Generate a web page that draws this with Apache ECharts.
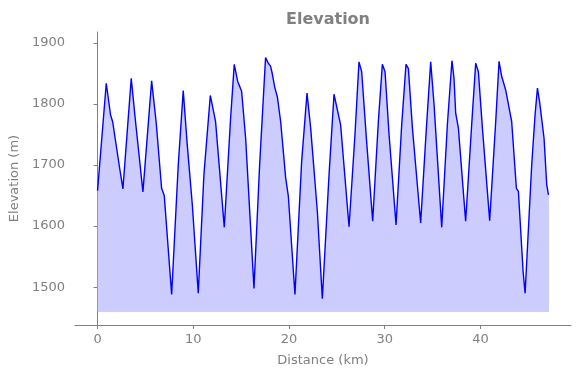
<!DOCTYPE html>
<html>
<head>
<meta charset="utf-8">
<script src="https://cdn.jsdelivr.net/npm/echarts@6/dist/echarts.min.js"></script>
<style>html,body{margin:0;padding:0;background:#fff;}#c{width:580px;height:378px;}</style>
</head>
<body>
<div id="c"></div>
<script>
const distanceKm = [0, 0.91, 1.36, 1.58, 2.23, 2.65, 3.52, 3.97, 4.74, 5.65, 6.13, 6.69, 6.97, 7.74, 8.43, 8.95, 9.37, 9.9, 10.52, 11.11, 11.78, 12.33, 13.24, 13.9, 14.28, 14.64, 15.05, 15.47, 16.34, 16.93, 17.55, 17.83, 18.07, 18.25, 18.5, 18.78, 19.13, 19.65, 19.93, 20.62, 21.32, 21.88, 22.26, 22.96, 23.48, 24.18, 24.7, 25.39, 26.27, 26.89, 27.31, 27.59, 28.1, 28.74, 29.33, 29.75, 30.03, 30.45, 31.18, 31.77, 32.22, 32.47, 32.89, 33.75, 34.35, 34.8, 35.15, 35.95, 36.54, 37.02, 37.23, 37.41, 37.69, 38.45, 39.08, 39.5, 39.78, 40.2, 40.96, 41.59, 41.94, 42.22, 42.63, 42.81, 43.26, 43.75, 43.96, 44.45, 44.66, 45.35, 45.7, 45.95, 46.19, 46.64, 46.92, 47.1];
const elevationM = [1658, 1834, 1782, 1771, 1703, 1661, 1842, 1771, 1656, 1838, 1769, 1662, 1650, 1488, 1700, 1822, 1733, 1635, 1490, 1684, 1814, 1771, 1598, 1777, 1865, 1837, 1821, 1744, 1498, 1700, 1876, 1867, 1862, 1850, 1828, 1812, 1771, 1679, 1649, 1488, 1706, 1818, 1761, 1624, 1481, 1684, 1816, 1766, 1599, 1750, 1869, 1853, 1740, 1608, 1771, 1865, 1853, 1750, 1602, 1766, 1865, 1858, 1761, 1605, 1761, 1869, 1799, 1598, 1766, 1871, 1843, 1785, 1761, 1608, 1766, 1867, 1853, 1761, 1609, 1771, 1870, 1845, 1823, 1821, 1771, 1662, 1657, 1526, 1490, 1700, 1782, 1826, 1802, 1744, 1668, 1651];
const xTicks = [0, 10, 20, 30, 40];
const yTicks = [1500, 1600, 1700, 1800, 1900];
const fillBase = 1460;

const points = distanceKm.map((d, i) => [d, elevationM[i]]);
const nLast = distanceKm.length - 1;
const fillEdge = [
  [distanceKm[0], elevationM[0]], [distanceKm[0], fillBase],
  [distanceKm[nLast], fillBase], [distanceKm[nLast], elevationM[nLast]]
];
const gray = '#808080';
const font = 'DejaVu Sans';

const chart = echarts.init(document.getElementById('c'), null, {renderer: 'canvas'});
chart.setOption({
  animation: false,
  backgroundColor: '#fff',
  title: {
    text: 'Elevation', left: 323, top: 7, textAlign: 'center',
    textStyle: {fontFamily: font, fontWeight: 'bold', fontSize: 16, color: gray}
  },
  grid: {left: 75, right: 9, top: 32, bottom: 53, containLabel: false},
  xAxis: {
    type: 'value', min: -2.355, max: 49.455,
    name: 'Distance (km)', nameLocation: 'middle', nameGap: 29,
    nameTextStyle: {fontFamily: font, fontSize: 13, color: gray},
    axisLine: {show: true, lineStyle: {color: gray, width: 1}},
    axisTick: {show: true, length: 4, lineStyle: {color: gray}, customValues: xTicks},
    axisLabel: {fontFamily: font, fontSize: 13, color: gray, margin: 8, customValues: xTicks,
      formatter: v => String(v)},
    splitLine: {show: false}
  },
  yAxis: {
    type: 'value', min: 1438, max: 1918,
    name: 'Elevation (m)', nameLocation: 'middle', nameGap: 49, nameRotate: 90,
    nameTextStyle: {fontFamily: font, fontSize: 13, color: gray},
    axisLine: {show: true, lineStyle: {color: gray, width: 1}},
    axisTick: {show: true, length: 4, lineStyle: {color: gray}, customValues: yTicks},
    axisLabel: {fontFamily: font, fontSize: 13, color: gray, margin: 10, customValues: yTicks,
      formatter: v => String(v)},
    splitLine: {show: false}
  },
  series: [{
    type: 'line', data: points, showSymbol: false, symbol: 'none',
    lineStyle: {color: '#0000ff', width: 1.4},
    areaStyle: {color: '#ccccff', opacity: 1, origin: fillBase},
    z: 3
  }, {
    type: 'line', data: fillEdge, showSymbol: false, symbol: 'none',
    lineStyle: {color: 'rgba(0,0,255,0.2)', width: 1},
    z: 2
  }]
});
</script>
</body>
</html>
